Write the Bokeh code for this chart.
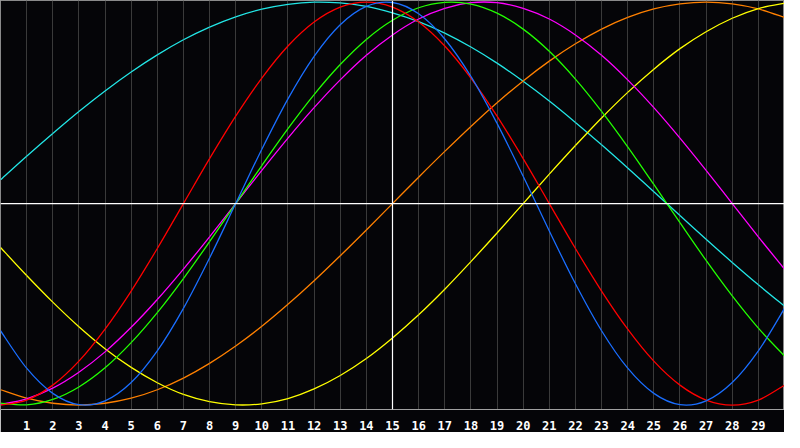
from bokeh.plotting import figure
from bokeh.models import Span, FixedTicker
from bokeh.embed import file_html
from bokeh.resources import INLINE

days = list(range(31))
tick_days = list(range(1, 30))
tick_labels = [str(d) for d in tick_days]

red = [-100,-97.5,-90.1,-78.2,-62.3,-43.4,-22.3,0,22.3,43.4,62.3,78.2,90.1,97.5,100,97.5,90.1,78.2,62.3,43.4,22.3,0,-22.3,-43.4,-62.3,-78.2,-90.1,-97.5,-100,-97.5,-90.1]
blue = [-63.1,-81.7,-94.2,-99.8,-97.9,-88.8,-73.1,-52.0,-27.0,0,27.0,52.0,73.1,88.8,97.9,99.8,94.2,81.7,63.1,39.8,13.6,-13.6,-39.8,-63.1,-81.7,-94.2,-99.8,-97.9,-88.8,-73.1,-52.0]
green = [-99.0,-99.9,-97.2,-91.0,-81.5,-69.0,-54.1,-37.2,-18.9,0,18.9,37.2,54.1,69.0,81.5,91.0,97.2,99.9,99.0,94.5,86.6,75.6,61.8,45.8,28.2,9.5,-9.5,-28.2,-45.8,-61.8,-75.6]
magenta = [-99.7,-96.9,-91.6,-83.7,-73.6,-61.4,-47.6,-32.5,-16.5,0,16.5,32.5,47.6,61.4,73.6,83.7,91.6,96.9,99.7,99.7,96.9,91.6,83.7,73.6,61.4,47.6,32.5,16.5,0,-16.5,-32.5]
cyan = [11.8,23.5,34.8,45.7,55.9,65.3,73.8,81.3,87.6,92.7,96.5,98.9,100.0,99.6,97.9,94.7,90.3,84.6,77.7,69.7,60.7,50.9,40.3,29.2,17.7,5.9,-5.9,-17.7,-29.2,-40.3,-50.9]
orange = [-92.4,-96.6,-99.1,-100,-99.1,-96.6,-92.4,-86.6,-79.3,-70.7,-60.9,-50,-38.3,-25.9,-13.1,0,13.1,25.9,38.3,50,60.9,70.7,79.3,86.6,92.4,96.6,99.1,100,99.1,96.6,92.4]
yellow = [-21.8,-35.7,-48.9,-61.1,-72.0,-81.3,-88.9,-94.7,-98.3,-99.9,-99.4,-96.8,-92.0,-85.3,-76.9,-66.7,-55.2,-42.5,-28.8,-14.6,0,14.6,28.8,42.5,55.2,66.7,76.9,85.3,92.0,96.8,99.4]

series = [
    (cyan, "#22e5e5"),
    (orange, "#ff8000"),
    (yellow, "#ffff00"),
    (magenta, "#ff00ff"),
    (green, "#22ff00"),
    (red, "#ff0000"),
    (blue, "#1a6eff"),
]

bg = "#050508"
p = figure(width=784, height=432, x_range=(0, 30), y_range=(-102.2, 100.8),
           output_backend="svg", toolbar_location=None,
           background_fill_color=bg, border_fill_color=bg,
           min_border_left=0, min_border_right=0, min_border_top=0, min_border_bottom=0)

p.outline_line_color = "#8a8a8a"
p.yaxis.visible = False
p.ygrid.visible = False

p.xaxis.ticker = FixedTicker(ticks=tick_days)
p.xaxis.major_label_overrides = {d: lab for d, lab in zip(tick_days, tick_labels)}
p.xaxis.major_label_text_color = "white"
p.xaxis.major_label_text_font = "DejaVu Sans Mono"
p.xaxis.major_label_text_font_style = "bold"
p.xaxis.major_label_text_font_size = "12px"
p.xaxis.major_label_standoff = 5
p.xaxis.major_tick_line_color = None
p.xaxis.minor_tick_line_color = None
p.xaxis.axis_line_color = "#a0a0a0"

p.xgrid.ticker = FixedTicker(ticks=tick_days)
p.xgrid.grid_line_color = "#3a3a3a"
p.xgrid.grid_line_width = 1

p.add_layout(Span(location=0, dimension="width", line_color="white", line_width=1.2))
p.add_layout(Span(location=15, dimension="height", line_color="white", line_width=1.2))

# smooth curve through the read daily values (Catmull-Rom as cubic Bezier segments)
for vals, col in series:
    n = len(days)
    x0, y0, x1, y1, cx0, cy0, cx1, cy1 = [], [], [], [], [], [], [], []
    for i in range(n - 1):
        im = max(i - 1, 0)
        ip = min(i + 2, n - 1)
        x0.append(days[i]); y0.append(vals[i])
        x1.append(days[i + 1]); y1.append(vals[i + 1])
        cx0.append(days[i] + (days[i + 1] - days[im]) / 6.0)
        cy0.append(vals[i] + (vals[i + 1] - vals[im]) / 6.0)
        cx1.append(days[i + 1] - (days[ip] - days[i]) / 6.0)
        cy1.append(vals[i + 1] - (vals[ip] - vals[i]) / 6.0)
    p.bezier(x0=x0, y0=y0, x1=x1, y1=y1, cx0=cx0, cy0=cy0, cx1=cx1, cy1=cy1,
             line_color=col, line_width=1.3)

open("out.html", "w").write(file_html(p, INLINE))
